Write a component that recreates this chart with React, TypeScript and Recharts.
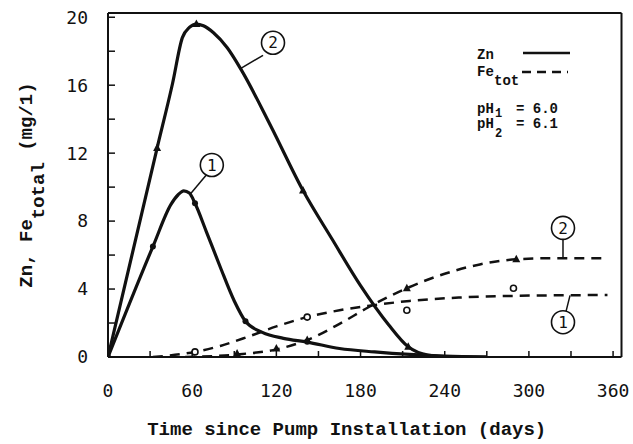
import {
  ComposedChart,
  Legend,
  Line,
  ReferenceDot,
  ReferenceLine,
  Scatter,
  XAxis,
  YAxis,
} from "recharts";

// smooth fitted curves (days, mg/l)
const zn1Days = [0, 32, 45, 50, 54, 58, 62, 70, 80, 90, 98, 110, 125, 142, 165, 190, 215, 240, 270];
const zn1Values = [0, 6.5, 9.0, 9.55, 9.78, 9.65, 9.05, 7.4, 5.3, 3.3, 2.1, 1.45, 1.1, 0.88, 0.5, 0.3, 0.15, 0.05, 0];

const zn2Days = [0, 35, 46, 53, 58, 63, 68, 75, 85, 95, 116, 139, 160, 180, 200, 214, 228, 245, 270];
const zn2Values = [0, 12.3, 16.1, 18.8, 19.4, 19.6, 19.5, 19.1, 18.2, 16.9, 13.6, 9.8, 6.9, 4.2, 1.9, 0.6, 0.12, 0.02, 0];

const fe1Days = [32, 62, 80, 100, 120, 142, 165, 185, 215, 250, 290, 356];
const fe1Values = [0, 0.3, 0.65, 1.2, 1.8, 2.35, 2.75, 3.0, 3.3, 3.5, 3.6, 3.65];

const fe2Days = [55, 92, 120, 142, 165, 185, 213, 240, 265, 291, 320, 353];
const fe2Values = [0, 0.15, 0.45, 1.0, 1.95, 2.9, 4.05, 4.9, 5.45, 5.75, 5.82, 5.82];

// measured points
const zn1PtDays = [0, 32, 62, 98, 142];
const zn1PtValues = [0, 6.5, 9.05, 2.1, 0.9];
const zn2PtDays = [0, 35, 63, 139, 214];
const zn2PtValues = [0, 12.3, 19.6, 9.8, 0.6];
const fe1PtDays = [62, 142, 213, 289];
const fe1PtValues = [0.3, 2.35, 2.75, 4.05];
const fe2PtDays = [92, 120, 142, 213, 291];
const fe2PtValues = [0.2, 0.5, 1.0, 4.05, 5.75];

const xTicks = [0, 30, 60, 90, 120, 150, 180, 210, 240, 270, 300, 330, 360];
const yTicks = [0, 2, 4, 6, 8, 10, 12, 14, 16, 18, 20];

const zip = (d: number[], v: number[]) => d.map((day, i) => ({ day, v: v[i] }));

const INK = "#111";
const MONO = "'Liberation Mono', monospace";
const TICKFONT = "'DejaVu Sans Mono', monospace";

const Tri = (p: any) => (
  <polygon
    points={`${p.cx},${p.cy - 4.5} ${p.cx - 4},${p.cy + 3} ${p.cx + 4},${p.cy + 3}`}
    fill={INK}
  />
);
const Dot = (p: any) => <circle cx={p.cx} cy={p.cy} r={3} fill={INK} />;
const OpenDot = (p: any) => (
  <circle cx={p.cx} cy={p.cy} r={3} fill="#fff" stroke={INK} strokeWidth={1.6} />
);

const LegendBox = () => (
  <svg width={150} height={105} style={{ fontFamily: MONO, fontWeight: "bold" }}>
    <text x={7} y={19} fontSize={14} fill={INK}>Zn</text>
    <line x1={53} y1={13} x2={100} y2={13} stroke={INK} strokeWidth={2.5} />
    <text x={7} y={36} fontSize={14} fill={INK}>Fe</text>
    <text x={24} y={45} fontSize={14} fill={INK}>tot</text>
    <line x1={52} y1={32} x2={98} y2={32} stroke={INK} strokeWidth={2.5} strokeDasharray="9 6" />
    <text x={7} y={73} fontSize={14} fill={INK}>pH</text>
    <text x={25} y={77} fontSize={12} fill={INK}>1</text>
    <text x={46} y={73} fontSize={14} fill={INK}>= 6.0</text>
    <text x={7} y={88} fontSize={14} fill={INK}>pH</text>
    <text x={25} y={97} fontSize={12} fill={INK}>2</text>
    <text x={46} y={88} fontSize={14} fill={INK}>= 6.1</text>
  </svg>
);

const circled = (v: string) => ({ value: v, position: "center" as const, fill: INK, fontSize: 16, fontFamily: TICKFONT });

export default function App() {
  return (
    <div style={{ position: "fixed", left: 0, top: 0, width: 633, height: 444, background: "#fff" }}>
      <ComposedChart
        width={633}
        height={444}
        margin={{ top: 13, right: 11.5, bottom: 27, left: 48 }}
      >
        <XAxis
          type="number"
          dataKey="day"
          domain={[0, 366]}
          ticks={xTicks}
          interval={0}
          allowDataOverflow
          height={60}
          tickSize={-6}
          tickMargin={33}
          axisLine={{ stroke: INK, strokeWidth: 2 }}
          tickLine={{ stroke: INK, strokeWidth: 1.5 }}
          tick={{ fill: INK, fontSize: 18, fontFamily: TICKFONT }}
          tickFormatter={(v: number) => (v % 60 === 0 ? String(v) : "")}
          label={{
            content: (props: any) => {
              const vb = props.viewBox;
              return (
                <text
                  x={vb.x + vb.width / 2 - 18}
                  y={435}
                  textAnchor="middle"
                  fontSize={19}
                  fontWeight="bold"
                  fontFamily={MONO}
                  fill={INK}
                >
                  Time since Pump Installation (days)
                </text>
              );
            },
          }}
        />
        <YAxis
          type="number"
          domain={[0, 20.25]}
          ticks={yTicks}
          interval={0}
          allowDataOverflow
          width={60}
          tickSize={-7}
          tickMargin={27}
          axisLine={{ stroke: INK, strokeWidth: 2 }}
          tickLine={{ stroke: INK, strokeWidth: 1.5 }}
          tick={{ fill: INK, fontSize: 18, fontFamily: TICKFONT }}
          tickFormatter={(v: number) => (v % 4 === 0 ? String(v) : "")}
          label={{
            content: (props: any) => {
              const vb = props.viewBox;
              const cx = 32;
              const cy = vb.y + vb.height / 2;
              return (
                <text
                  x={cx}
                  y={cy}
                  textAnchor="middle"
                  transform={`rotate(-90 ${cx} ${cy})`}
                  fontSize={19}
                  fontWeight="bold"
                  fontFamily={MONO}
                  fill={INK}
                >
                  Zn, Fe
                  <tspan dy={12}>total</tspan>
                  <tspan dy={-12}> (mg/1)</tspan>
                </text>
              );
            },
          }}
        />
        <ReferenceLine y={20.25} stroke={INK} strokeWidth={2} ifOverflow="visible" />
        <ReferenceLine x={366} stroke={INK} strokeWidth={2} ifOverflow="visible" />

        <Line data={zip(fe1Days, fe1Values)} dataKey="v" type="monotone" stroke={INK} strokeWidth={2.5} strokeDasharray="10 7" dot={false} isAnimationActive={false} />
        <Line data={zip(fe2Days, fe2Values)} dataKey="v" type="monotone" stroke={INK} strokeWidth={2.5} strokeDasharray="10 7" dot={false} isAnimationActive={false} />
        <Line data={zip(zn1Days, zn1Values)} dataKey="v" type="monotone" stroke={INK} strokeWidth={3.2} dot={false} isAnimationActive={false} />
        <Line data={zip(zn2Days, zn2Values)} dataKey="v" type="monotone" stroke={INK} strokeWidth={3.2} dot={false} isAnimationActive={false} />

        <Scatter data={zip(zn1PtDays, zn1PtValues)} dataKey="v" shape={Dot} isAnimationActive={false} />
        <Scatter data={zip(zn2PtDays, zn2PtValues)} dataKey="v" shape={Tri} isAnimationActive={false} />
        <Scatter data={zip(fe1PtDays, fe1PtValues)} dataKey="v" shape={OpenDot} isAnimationActive={false} />
        <Scatter data={zip(fe2PtDays, fe2PtValues)} dataKey="v" shape={Tri} isAnimationActive={false} />

        {/* leader lines to the circled curve numbers */}
        <ReferenceLine segment={[{ x: 110.5, y: 17.76 }, { x: 95, y: 17.0 }]} stroke={INK} strokeWidth={1.5} />
        <ReferenceLine segment={[{ x: 69.9, y: 10.7 }, { x: 59, y: 9.62 }]} stroke={INK} strokeWidth={1.5} />
        <ReferenceLine segment={[{ x: 324.3, y: 6.94 }, { x: 324.3, y: 5.82 }]} stroke={INK} strokeWidth={1.5} />
        <ReferenceLine segment={[{ x: 326.5, y: 2.7 }, { x: 329.3, y: 3.63 }]} stroke={INK} strokeWidth={1.5} />

        <ReferenceDot x={117.6} y={18.5} r={11.5} fill="#fff" stroke={INK} strokeWidth={1.6} label={circled("2")} />
        <ReferenceDot x={74} y={11.3} r={11.5} fill="#fff" stroke={INK} strokeWidth={1.6} label={circled("1")} />
        <ReferenceDot x={324.3} y={7.6} r={11.5} fill="#fff" stroke={INK} strokeWidth={1.6} label={circled("2")} />
        <ReferenceDot x={324.3} y={2.05} r={11.5} fill="#fff" stroke={INK} strokeWidth={1.6} label={circled("1")} />

        <Legend
          layout="horizontal"
          verticalAlign="middle"
          align="center"
          content={() => <LegendBox />}
          wrapperStyle={{ position: "absolute", left: 470, top: 40, width: 150, height: 105 }}
        />
      </ComposedChart>
    </div>
  );
}
